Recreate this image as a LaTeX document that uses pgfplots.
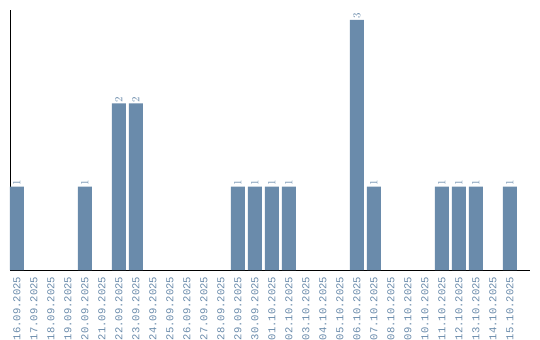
\documentclass[border=0pt]{standalone}
\usepackage{pgfplots}
\pgfplotsset{compat=1.18}
\usepackage{fontspec}
\setmainfont{Liberation Sans}
\newfontfamily\monofont{Liberation Mono}
\definecolor{barc}{HTML}{6A8BAB}
\begin{document}
\begin{tikzpicture}
\begin{axis}[
  scale only axis,
  width=520bp, height=260bp,
  xmin=-0.41, xmax=30.18,
  ymin=0, ymax=3.12,
  axis x line*=bottom, axis y line*=left,
  axis line style={black, line width=0.9pt},
  ytick=\empty,
  xtick={0,...,29},
  xticklabels={16.09.2025,17.09.2025,18.09.2025,19.09.2025,20.09.2025,21.09.2025,22.09.2025,23.09.2025,24.09.2025,25.09.2025,26.09.2025,27.09.2025,28.09.2025,29.09.2025,30.09.2025,01.10.2025,02.10.2025,03.10.2025,04.10.2025,05.10.2025,06.10.2025,07.10.2025,08.10.2025,09.10.2025,10.10.2025,11.10.2025,12.10.2025,13.10.2025,14.10.2025,15.10.2025},
  major tick length=0pt,
  xticklabel style={rotate=90, anchor=east, font=\monofont\fontsize{10.6}{12}\selectfont, text=barc, inner sep=0pt, xshift=-6.5bp},
  xtick style={draw=none},
  every node near coord/.append style={rotate=90, anchor=west, font=\monofont\fontsize{10.5}{11}\selectfont, text=barc, inner sep=1pt},
  clip=false,
]
\addplot[ybar, bar width=14bp, fill=barc, draw=none, nodes near coords] coordinates {
(0,1) (4,1) (6,2) (7,2) (13,1) (14,1) (15,1) (16,1) (20,3) (21,1) (25,1) (26,1) (27,1) (29,1)
};
\coordinate (o) at (rel axis cs:0,0);
\end{axis}
\pgfresetboundingbox
\path (o) ++(-10bp,-70bp) rectangle ++(540bp,340bp);
\end{tikzpicture}
\end{document}
